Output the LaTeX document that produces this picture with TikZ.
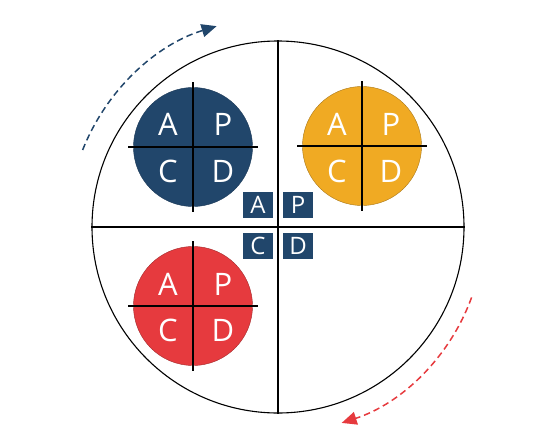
\documentclass[tikz,border=0pt]{standalone}
\usepackage{fontspec}
\setmainfont{Open Sans}
\usetikzlibrary{positioning, arrows.meta}
\definecolor{pdcablue}{RGB}{33,70,107}
\definecolor{pdcaorange}{RGB}{240,170,35}
\definecolor{pdcared}{RGB}{230,58,62}

\begin{document}
\begin{tikzpicture}[x=1pt,y=-1pt,line width=1.1pt]
    \tikzstyle{quarter}=[circle,minimum size=119pt,inner sep=0pt,line width=0.4pt]
    \tikzstyle{letter}=[text=white,inner sep=0pt,font=\fontsize{31}{31}\selectfont]
    \tikzstyle{tile}=[fill=pdcablue,text=white,minimum width=30pt,minimum height=26pt,
                      inner sep=0pt,font=\fontsize{24}{24}\selectfont]
    \tikzstyle{turn}=[dash pattern=on 6.5pt off 4pt,line width=1.5pt,
                      -{Triangle[length=15pt,width=13pt]}]

    \useasboundingbox (0,0) rectangle (554,436);

    % the big cycle
    \node[draw,circle,minimum size=372pt,inner sep=0pt] (wheel) at (278,227) {};
    \draw (wheel.north) -- (wheel.south);
    \draw (wheel.west)  -- (wheel.east);

    % quarter circles
    \node[quarter,fill=pdcablue,draw=pdcablue!80!black]     (blue)   at (193,147) {};
    \node[quarter,fill=pdcaorange,draw=pdcaorange!70!black] (orange) at (362,146) {};
    \node[quarter,fill=pdcared,draw=pdcared!70!black]       (red)    at (193,306) {};

    \draw ([yshift=5pt]blue.north)    -- ([yshift=-5pt]blue.south);
    \draw ([xshift=-5pt]blue.west)    -- ([xshift=5pt]blue.east);
    \draw ([yshift=5pt]orange.north)  -- ([yshift=-5pt]orange.south);
    \draw ([xshift=-5pt]orange.west)  -- ([xshift=5pt]orange.east);
    \draw ([yshift=5pt]red.north)     -- ([yshift=-5pt]red.south);
    \draw ([xshift=-5pt]red.west)     -- ([xshift=5pt]red.east);

    \node[letter] (blue_a)   at (168,124) {A};
    \node[letter] (blue_p)   at (223,124) {P};
    \node[letter] (blue_c)   at (168,171) {C};
    \node[letter] (blue_d)   at (223,171) {D};
    \node[letter] (orange_a) at (337,124) {A};
    \node[letter] (orange_p) at (391,124) {P};
    \node[letter] (orange_c) at (337,171) {C};
    \node[letter] (orange_d) at (391,171) {D};
    \node[letter] (red_a)    at (168,284) {A};
    \node[letter] (red_p)    at (223,284) {P};
    \node[letter] (red_c)    at (168,330) {C};
    \node[letter] (red_d)    at (223,330) {D};

    % tiles in the middle
    \node[tile] (tile_a) at (258,204.5) {A};
    \node[tile] (tile_p) at (298,204.5) {P};
    \node[tile] (tile_c) at (258,245.5) {C};
    \node[tile] (tile_d) at (298,245.5) {D};

    % turning arrows
    \coordinate (blue_start) at ([shift={(-158.5:210)}]wheel.center);
    \coordinate (red_start)  at ([shift={(20:206)}]wheel.center);
    \draw[turn,pdcablue] (blue_start) arc (-158.5:-107:210);
    \draw[turn,pdcared]  (red_start)  arc (20:72:206);
\end{tikzpicture}
\end{document}
